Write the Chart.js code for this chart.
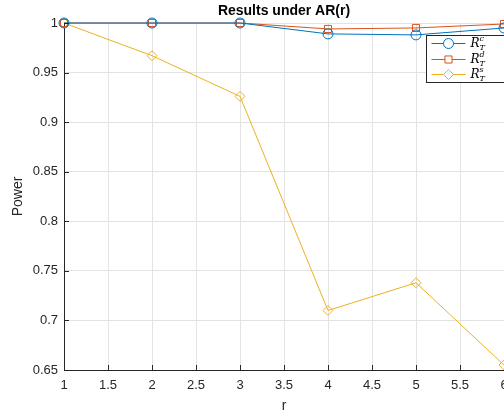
<!DOCTYPE html>
<html>
<head>
<meta charset="utf-8">
<script src="https://cdn.jsdelivr.net/npm/chart.js@4"></script>
<style>
  html, body { margin: 0; padding: 0; background: #fff; overflow: hidden; }
  #wrap { width: 504px; height: 414px; overflow: hidden; }
</style>
</head>
<body>
<div id="wrap"><canvas id="chart" width="560" height="420"></canvas></div>
<script>
// values
var rValues = [1, 2, 3, 4, 5, 6];
var powerC = [1, 1, 1, 0.989, 0.988, 0.995];
var powerD = [1, 1, 1, 0.994, 0.995, 0.999];
var powerS = [1, 0.967, 0.926, 0.710, 0.738, 0.655];
var seriesNames = ['c', 'd', 's'];
var seriesColors = ['#0072BD', '#D95319', '#EDB120'];
var seriesMarkers = ['circle', 'rect', 'rectRot'];

var font = '"Liberation Sans", Arial, sans-serif';

function toPoints(ys) {
    return ys.map(function (y, i) { return { x: rValues[i], y: y }; });
}

function fmt(v) { return String(Number(v.toFixed(2))); }

var datasets = [powerC, powerD, powerS].map(function (ys, i) {
    return {
        label: seriesNames[i],
        data: toPoints(ys),
        borderColor: seriesColors[i],
        backgroundColor: 'rgba(0,0,0,0)',
        borderWidth: 1,
        pointStyle: seriesMarkers[i],
        pointRadius: 5,
        pointBorderWidth: 1,
        pointBorderColor: seriesColors[i],
        pointBackgroundColor: 'rgba(0,0,0,0)',
        clip: false
    };
});

// title, inward ticks and the boxed legend MATLAB-style
var extras = {
    id: 'extras',
    afterDraw: function (chart) {
        var ctx = chart.ctx;
        var a = chart.chartArea;
        var xs = chart.scales.x, ys = chart.scales.y;
        ctx.save();

        // title
        ctx.fillStyle = '#000';
        ctx.font = 'bold 14px ' + font;
        ctx.textAlign = 'center';
        ctx.textBaseline = 'middle';
        ctx.fillText('Results under AR(r)', (a.left + a.right) / 2, 11);

        // inward tick marks
        ctx.strokeStyle = '#262626';
        ctx.lineWidth = 1;
        ctx.beginPath();
        xs.ticks.forEach(function (t) {
            var px = Math.round(xs.getPixelForValue(t.value)) + 0.5;
            ctx.moveTo(px, a.bottom);
            ctx.lineTo(px, a.bottom - 5);
        });
        ys.ticks.forEach(function (t) {
            var py = Math.round(ys.getPixelForValue(t.value)) + 0.5;
            ctx.moveTo(a.left, py);
            ctx.lineTo(a.left + 5, py);
        });
        ctx.stroke();

        // legend box
        var bx = 426.5, by = 35.5, bw = 90, bh = 47;
        ctx.fillStyle = '#fff';
        ctx.fillRect(bx, by, bw, bh);
        ctx.strokeStyle = '#262626';
        ctx.strokeRect(bx, by, bw, bh);
        var rowY = [43, 59, 74];
        for (var i = 0; i < 3; i++) {
            var y = rowY[i];
            ctx.strokeStyle = seriesColors[i];
            ctx.beginPath();
            ctx.moveTo(bx + 5, y + 0.5);
            ctx.lineTo(bx + 39, y + 0.5);
            ctx.stroke();
            ctx.fillStyle = '#fff';
            ctx.strokeStyle = seriesColors[i];
            Chart.helpers.drawPoint(ctx, {
                pointStyle: seriesMarkers[i], radius: 5, borderWidth: 1
            }, bx + 22, y + 0.5);
            ctx.fillStyle = '#000';
            ctx.textAlign = 'left';
            ctx.textBaseline = 'middle';
            ctx.font = 'italic 12px "DejaVu Serif", serif';
            ctx.fillText('R', bx + 44, y + 1);
            ctx.font = 'italic 8px "DejaVu Serif", serif';
            ctx.fillText(seriesNames[i], bx + 53, y - 4);
            ctx.fillText('T', bx + 53, y + 5);
        }
        ctx.restore();
    }
};

new Chart(document.getElementById('chart').getContext('2d'), {
    type: 'line',
    data: { datasets: datasets },
    plugins: [extras],
    options: {
        responsive: false,
        animation: false,
        layout: { padding: { top: 23, right: 56, left: 0, bottom: 0 } },
        plugins: {
            legend: { display: false },
            tooltip: { enabled: false },
            title: { display: false }
        },
        scales: {
            x: {
                type: 'linear',
                min: 1,
                max: 6,
                ticks: {
                    stepSize: 0.5,
                    color: '#262626',
                    font: { family: font, size: 13 },
                    padding: 8,
                    maxRotation: 0,
                    autoSkip: false,
                    callback: fmt
                },
                grid: { color: '#e3e3e3', drawTicks: false },
                border: { color: '#262626', width: 1 },
                title: {
                    display: true,
                    text: 'r',
                    color: '#262626',
                    font: { family: font, size: 14 },
                    padding: { top: 2, bottom: 5 }
                },
                afterFit: function (s) { s.height = 50; }
            },
            y: {
                min: 0.65,
                max: 1,
                ticks: {
                    stepSize: 0.05,
                    color: '#262626',
                    font: { family: font, size: 13 },
                    padding: 6,
                    callback: fmt
                },
                grid: { color: '#e3e3e3', drawTicks: false },
                border: { color: '#262626', width: 1 },
                title: {
                    display: true,
                    text: 'Power',
                    color: '#262626',
                    font: { family: font, size: 14 },
                    padding: { top: 10, bottom: 0 }
                },
                afterFit: function (s) { s.width = 64; }
            }
        }
    }
});
</script>
</body>
</html>
